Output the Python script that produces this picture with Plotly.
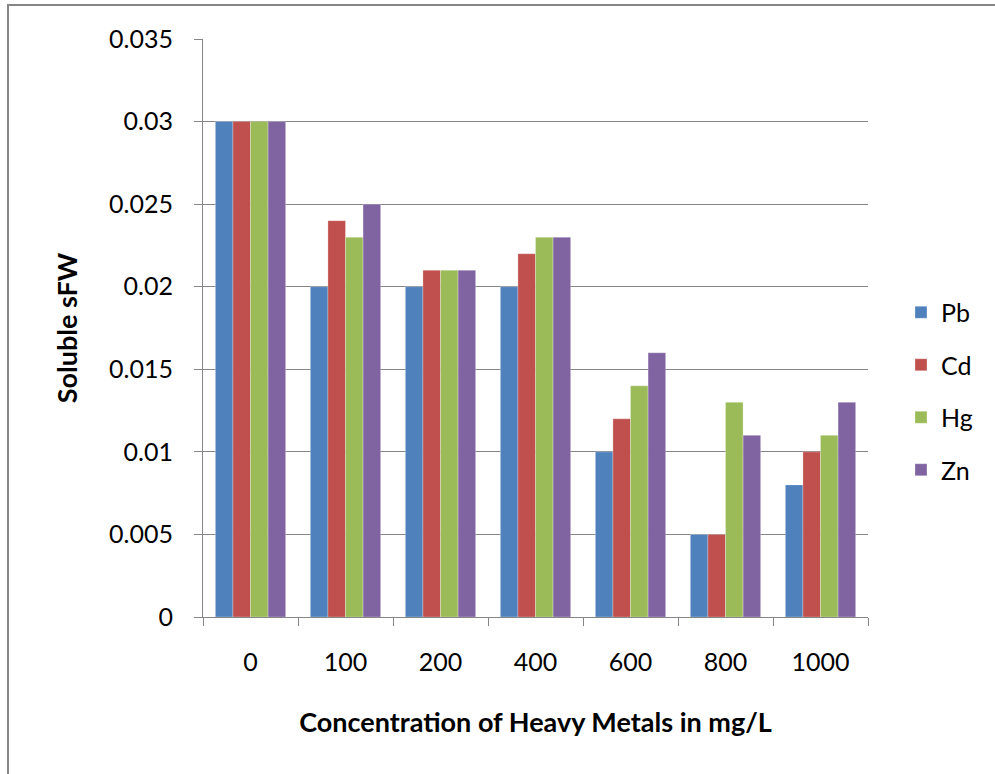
import plotly.graph_objects as go

categories = ["0", "100", "200", "400", "600", "800", "1000"]
pb = [0.030, 0.020, 0.020, 0.020, 0.010, 0.005, 0.008]
cd = [0.030, 0.024, 0.021, 0.022, 0.012, 0.005, 0.010]
hg = [0.030, 0.023, 0.021, 0.023, 0.014, 0.013, 0.011]
zn = [0.030, 0.025, 0.021, 0.023, 0.016, 0.011, 0.013]
series = [("Pb", pb, "#4F81BD"), ("Cd", cd, "#C0504D"), ("Hg", hg, "#9BBB59"), ("Zn", zn, "#8064A2")]
y_ticks = [0, 0.005, 0.01, 0.015, 0.02, 0.025, 0.03, 0.035]

W, H = 995, 774
L, R, T, B = 203, 868, 39, 617

fig = go.Figure()
for name, vals, col in series:
    fig.add_trace(go.Bar(x=categories, y=vals, name=name, legendgroup=name,
                         marker=dict(color=col, line=dict(color="rgba(255,255,255,0.35)", width=0.8))))

font = "Lato, 'Open Sans', sans-serif"
fig.update_layout(
    width=W, height=H,
    margin=dict(l=L, r=W - R, t=T, b=H - B, autoexpand=False),
    paper_bgcolor="white", plot_bgcolor="white",
    barmode="group", bargap=0.26, bargroupgap=0,
    font=dict(family=font, size=25, color="#000"),
    legend=dict(x=(901 - L) / (R - L), y=(B - 391) / (B - T), xanchor="left", yanchor="middle",
                font=dict(size=25), tracegroupgap=17, itemwidth=30, bgcolor="rgba(0,0,0,0)"),
    xaxis=dict(type="category", showline=True, linecolor="#868686", linewidth=1,
               ticks="outside", tickson="boundaries", ticklen=8, tickcolor="#868686",
               showgrid=False, tickfont=dict(size=25), ticklabelstandoff=23,
               title=dict(text="<b>Concentration of Heavy Metals in mg/L</b>", font=dict(size=27), standoff=38)),
    yaxis=dict(range=[0, 0.035], tickvals=y_ticks, showline=True, linecolor="#868686", linewidth=1,
               ticks="outside", ticklen=8, tickcolor="#868686", showgrid=True, gridcolor="#868686",
               gridwidth=1, tickfont=dict(size=25), ticklabelstandoff=16, zeroline=False,
               title=dict(text="<b>Soluble sFW</b>", font=dict(size=27), standoff=23)),
)
fig.add_shape(type="rect", xref="paper", yref="paper",
              x0=(8 - L) / (R - L), x1=(1010 - L) / (R - L),
              y0=(B - 790) / (B - T), y1=(B - 5) / (B - T),
              line=dict(color="#868686", width=2), fillcolor="rgba(0,0,0,0)", layer="below")
fig.write_html("out.html", config={"displayModeBar": False},
               post_script="document.body.style.margin='0';document.body.style.padding='0';")
